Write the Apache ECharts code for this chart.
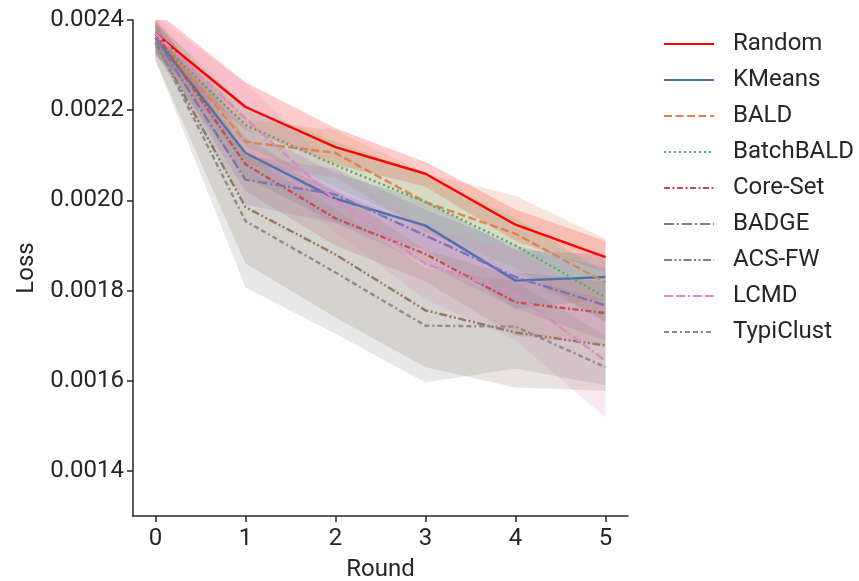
<!DOCTYPE html>
<html>
<head>
<meta charset="utf-8">
<script src="https://cdn.jsdelivr.net/npm/echarts@6/dist/echarts.min.js"></script>
<style>
  html, body { margin: 0; padding: 0; background: #fff; }
  #chart { width: 859px; height: 581px; }
</style>
</head>
<body>
<div id="chart"></div>
<script>
// rounds on the x axis
const rounds = [0, 1, 2, 3, 4, 5]
const yTicks = [0.0014, 0.0016, 0.0018, 0.0020, 0.0022, 0.0024]

const names = ['Random', 'KMeans', 'BALD', 'BatchBALD', 'Core-Set', 'BADGE', 'ACS-FW', 'LCMD', 'TypiClust']

// mean loss per round
const randomMean    = [0.002370, 0.002207, 0.002118, 0.002059, 0.001946, 0.001874]
const kmeansMean    = [0.002360, 0.002105, 0.002004, 0.001944, 0.001822, 0.001830]
const baldMean      = [0.002370, 0.002130, 0.002105, 0.001996, 0.001926, 0.001818]
const batchbaldMean = [0.002360, 0.002167, 0.002078, 0.001996, 0.001900, 0.001785]
const coresetMean   = [0.002370, 0.002080, 0.001960, 0.001881, 0.001774, 0.001750]
const badgeMean     = [0.002360, 0.002046, 0.002013, 0.001922, 0.001830, 0.001767]
const acsfwMean     = [0.002350, 0.001985, 0.001880, 0.001756, 0.001707, 0.001678]
const lcmdMean      = [0.002370, 0.002182, 0.002000, 0.001859, 0.001793, 0.001644]
const typiMean      = [0.002350, 0.001954, 0.001840, 0.001722, 0.001720, 0.001630]

// confidence band, upper edge
const randomUp    = [0.002420, 0.002262, 0.002160, 0.002085, 0.001980, 0.001910]
const kmeansUp    = [0.002395, 0.002160, 0.002060, 0.002000, 0.001890, 0.001880]
const baldUp      = [0.002405, 0.002180, 0.002155, 0.002060, 0.002010, 0.001915]
const batchbaldUp = [0.002395, 0.002210, 0.002130, 0.002055, 0.001960, 0.001840]
const coresetUp   = [0.002400, 0.002140, 0.002020, 0.001940, 0.001840, 0.001820]
const badgeUp     = [0.002390, 0.002100, 0.002070, 0.001980, 0.001900, 0.001850]
const acsfwUp     = [0.002390, 0.002110, 0.002020, 0.001890, 0.001830, 0.001780]
const lcmdUp      = [0.002410, 0.002260, 0.002070, 0.001940, 0.001890, 0.001770]
const typiUp      = [0.002390, 0.002100, 0.001980, 0.001850, 0.001820, 0.001700]

// confidence band, lower edge
const randomLow    = [0.002320, 0.002156, 0.002080, 0.002030, 0.001910, 0.001840]
const kmeansLow    = [0.002325, 0.002050, 0.001950, 0.001890, 0.001760, 0.001780]
const baldLow      = [0.002335, 0.002080, 0.002050, 0.001930, 0.001850, 0.001730]
const batchbaldLow = [0.002325, 0.002120, 0.002030, 0.001940, 0.001840, 0.001730]
const coresetLow   = [0.002340, 0.002020, 0.001900, 0.001820, 0.001700, 0.001680]
const badgeLow     = [0.002330, 0.001990, 0.001950, 0.001860, 0.001760, 0.001690]
const acsfwLow     = [0.002310, 0.001860, 0.001740, 0.001630, 0.001585, 0.001578]
const lcmdLow      = [0.002330, 0.002100, 0.001930, 0.001780, 0.001690, 0.001518]
const typiLow      = [0.002310, 0.001807, 0.001704, 0.001596, 0.001627, 0.001590]

const means = [randomMean, kmeansMean, baldMean, batchbaldMean, coresetMean, badgeMean, acsfwMean, lcmdMean, typiMean]
const uppers = [randomUp, kmeansUp, baldUp, batchbaldUp, coresetUp, badgeUp, acsfwUp, lcmdUp, typiUp]
const lowers = [randomLow, kmeansLow, baldLow, batchbaldLow, coresetLow, badgeLow, acsfwLow, lcmdLow, typiLow]

const colors = ['#ff0000', '#4c72b0', '#dd8452', '#55a868', '#c44e52', '#8172b3', '#937860', '#da8bc3', '#8c8c8c']
const dashes = [
    'solid',
    'solid',
    [8, 3.5],
    [2, 3],
    [6, 2.5, 2, 2.5],
    [10, 3, 2, 3],
    [8, 2.5, 2, 2.5, 2, 2.5],
    [9, 3, 9, 3, 2, 3],
    [5, 3, 5, 3, 2, 3]
]

const textColor = '#262626'
const fontFamily = 'Roboto'

let series = []

// bands first, lines drawn on top
names.forEach((name, k) => {
    series.push({
        name: name + ' band',
        type: 'custom',
        z: 1,
        clip: true,
        silent: true,
        data: [[0, 0]],
        renderItem: (params, api) => {
            let pts = uppers[k].map((v, i) => api.coord([rounds[i], v]))
            let low = lowers[k].map((v, i) => api.coord([rounds[i], v])).reverse()
            return {
                type: 'polygon',
                shape: { points: pts.concat(low) },
                style: { fill: echarts.color.modifyAlpha(colors[k], 0.2), stroke: 'none' }
            }
        }
    })
})

names.forEach((name, k) => {
    series.push({
        name: name,
        type: 'line',
        z: 3,
        symbol: 'none',
        data: rounds.map((r, i) => [r, means[k][i]]),
        color: colors[k],
        lineStyle: { color: colors[k], width: 2.4, type: dashes[k] },
        emphasis: { disabled: true }
    })
})

let myChart = echarts.init(document.getElementById('chart'))
myChart.setOption({
    animation: false,
    backgroundColor: '#fff',
    textStyle: { fontFamily: fontFamily },
    grid: {
        left: 133,
        right: 231,
        top: 20,
        bottom: 65,
        containLabel: false,
        outerBoundsMode: 'none'
    },
    legend: {
        data: names,
        orient: 'vertical',
        left: 663,
        top: 32,
        padding: 0,
        itemWidth: 50,
        itemHeight: 14,
        itemGap: 12,
        itemStyle: { opacity: 0 },
        textStyle: {
            color: textColor,
            fontSize: 24,
            lineHeight: 24,
            fontFamily: fontFamily,
            padding: [0, 0, 0, 14]
        }
    },
    xAxis: {
        type: 'value',
        min: -0.25,
        max: 5.25,
        name: 'Round',
        nameLocation: 'middle',
        nameGap: 42,
        nameTextStyle: { color: textColor, fontSize: 24, fontFamily: fontFamily },
        splitLine: { show: false },
        axisLine: { show: true, onZero: false, lineStyle: { color: textColor, width: 1.5 } },
        axisTick: { show: true, length: 6, lineStyle: { color: textColor, width: 1.5 }, customValues: rounds },
        axisLabel: { color: textColor, fontSize: 24, margin: 11, customValues: rounds }
    },
    yAxis: {
        type: 'value',
        min: 0.0013,
        max: 0.0024,
        name: 'Loss',
        nameLocation: 'middle',
        nameRotate: 90,
        nameGap: 94,
        nameTextStyle: { color: textColor, fontSize: 24, fontFamily: fontFamily },
        splitLine: { show: false },
        axisLine: { show: true, onZero: false, lineStyle: { color: textColor, width: 1.5 } },
        axisTick: { show: true, length: 6, lineStyle: { color: textColor, width: 1.5 }, customValues: yTicks },
        axisLabel: {
            color: textColor,
            fontSize: 24,
            margin: 9,
            customValues: yTicks,
            formatter: v => v.toFixed(4)
        }
    },
    series: series
})
</script>
</body>
</html>
